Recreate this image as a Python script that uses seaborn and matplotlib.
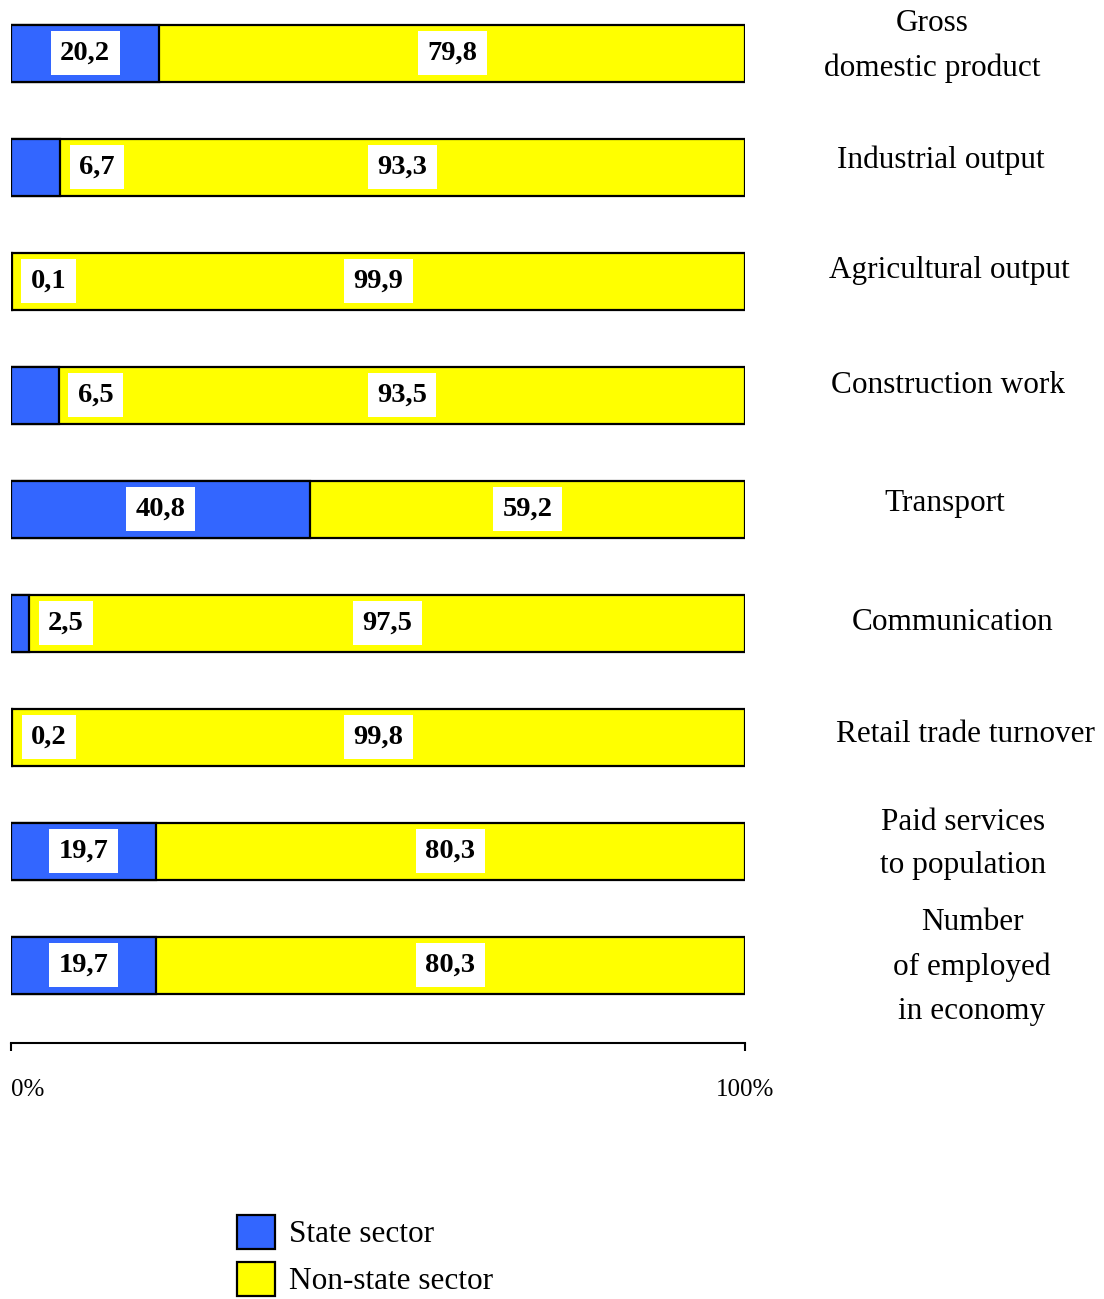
import matplotlib
matplotlib.use('Agg')
import matplotlib.pyplot as plt
import seaborn as sns
import pandas as pd
from matplotlib.patches import Patch

# ---- data ----
categories = ["Gross\ndomestic product", "Industrial output", "Agricultural output",
              "Construction work", "Transport", "Communication",
              "Retail trade turnover", "Paid services\nto population",
              "Number\nof employed\nin economy"]
state = [20.2, 6.7, 0.1, 6.5, 40.8, 2.5, 0.2, 19.7, 19.7]
nonstate = [79.8, 93.3, 99.9, 93.5, 59.2, 97.5, 99.8, 80.3, 80.3]
series_names = ["State sector", "Non-state sector"]
tick_labels = ["0%", "100%"]

# ---- layout (pixels) ----
label_center_px = [932, 941, 949, 948, 945, 953, 966, 963, 972]
label_dy_px = [-7, -7, -11, -10, -6, -1, -3, -7, 2]

BLUE = "#3366FF"
YELLOW = "#FFFF00"

sns.set_theme(style="white")
plt.rcParams['font.family'] = ['Liberation Serif', 'DejaVu Serif']
plt.rcParams['text.color'] = 'black'

W, H = 1104, 1299
fig = plt.figure(figsize=(W / 100, H / 100), dpi=100)
ax_left, ax_right, ax_bottom = 11, 745, 1043
step_px = 114
ax = fig.add_axes([ax_left / W, (H - ax_bottom) / H, (ax_right - ax_left) / W, ax_bottom / H])

df = pd.DataFrame({"category": categories, "state": state, "nonstate": nonstate})
df["total"] = df["state"] + df["nonstate"]

sns.barplot(data=df, y="category", x="total", orient="h", color=YELLOW,
            edgecolor="black", linewidth=1.6, width=0.5, saturation=1, ax=ax)
sns.barplot(data=df, y="category", x="state", orient="h", color=BLUE,
            edgecolor="black", linewidth=1.6, width=0.5, saturation=1, ax=ax)

ax.set_xlim(0, 100)
ax.set_ylim((ax_bottom - 53) / step_px, -53 / step_px)
ax.set_xlabel("")
ax.set_ylabel("")
ax.set_yticks([])

def fmt(v):
    return f"{v:.1f}".replace(".", ",")

bbox = dict(boxstyle="square,pad=0.33", fc="white", ec="none")
for i, (s, n) in enumerate(zip(state, nonstate)):
    xs = s / 2 if s >= 10 else s + 5
    ax.text(xs, i, fmt(s), ha="center", va="center", fontsize=20.5,
            fontweight="bold", color="black", bbox=bbox, zorder=5)
    ax.text(s + n / 2, i, fmt(n), ha="center", va="center", fontsize=20.5,
            fontweight="bold", color="black", bbox=bbox, zorder=5)
    xl = (label_center_px[i] - ax_left) / (ax_right - ax_left) * 100
    ax.text(xl, i + label_dy_px[i] / step_px, categories[i], ha="center", va="center",
            fontsize=22.5, linespacing=1.67, color="black", clip_on=False)

ax.set_xticks([0, 100])
ax.set_xticklabels(tick_labels, fontsize=18)
ax.get_xticklabels()[0].set_ha("left")
ax.tick_params(axis="x", bottom=True, length=6, width=1.5, pad=20,
               direction="out", color="black", labelcolor="black")
for side in ["left", "top", "right"]:
    ax.spines[side].set_visible(False)
ax.spines["bottom"].set_color("black")
ax.spines["bottom"].set_linewidth(1.5)

handles = [Patch(facecolor=BLUE, edgecolor="black", linewidth=1.6, label=series_names[0]),
           Patch(facecolor=YELLOW, edgecolor="black", linewidth=1.6, label=series_names[1])]
fig.legend(handles=handles, loc="upper left",
           bbox_to_anchor=(237 / W, (H - 1215) / H), frameon=False,
           fontsize=22.5, handlelength=1.2, handleheight=1.3,
           handletextpad=0.45, labelspacing=0.39, borderpad=0, borderaxespad=0,
           labelcolor="black")

fig.savefig("out.png", dpi=100)
